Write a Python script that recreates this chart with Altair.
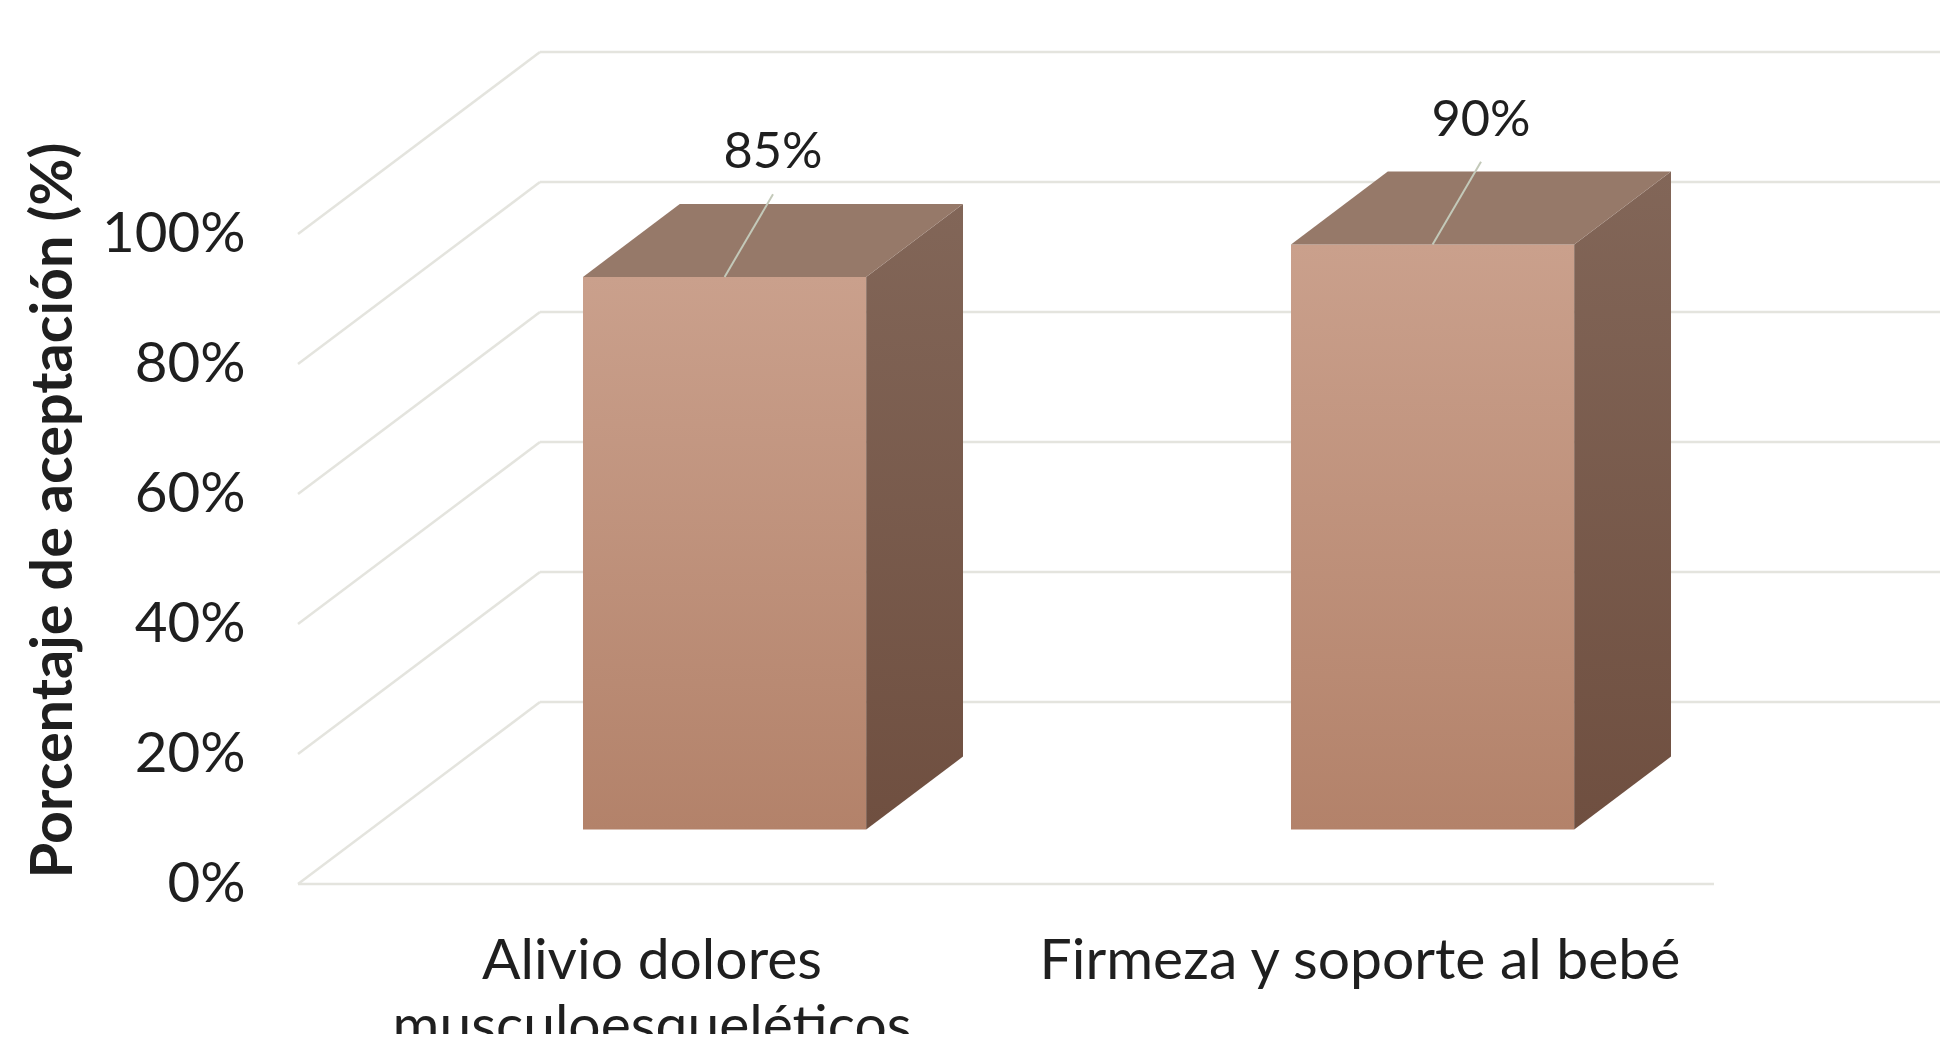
import altair as alt
import pandas as pd

# ---------------- data ----------------
categories = ["Alivio dolores musculoesqueléticos", "Firmeza y soporte al bebé"]
category_lines = ["Alivio dolores\nmusculoesqueléticos", "Firmeza y soporte al bebé"]
values = [85, 90]
value_labels = ["85%", "90%"]
y_ticks = [0, 20, 40, 60, 80, 100]
y_title = "Porcentaje de aceptación (%)"

# ---------------- oblique 3-D projection geometry ----------------
PX_PER_X = 708.0          # pixels per category unit
PX_PER_Y = 6.5            # pixels per percent
DEPTH_X = 242 / PX_PER_X  # full floor depth, expressed in x units
DEPTH_Y = 182 / PX_PER_Y  # full floor depth, expressed in value units
BAR_W = 0.4
Z0, Z1 = 0.3, 0.7         # bar front / back depth fraction
W, H = 1642, 832
X_MAX = W / PX_PER_X
Y_MAX = H / PX_PER_Y
N = len(categories)

FONT = "Lato"
TXT = "#1f1f1f"
GRID = "#e4e4de"

# ---------------- derived tables ----------------
front_rows, side_rows, top_rows, label_rows, cat_rows = [], [], [], [], []
for i, (c, v, lab, cl) in enumerate(zip(categories, values, value_labels, category_lines)):
    xl = i + (1 - BAR_W) / 2
    xr = xl + BAR_W
    front_rows.append({"cat": c, "x": xl + Z0 * DEPTH_X, "x2": xr + Z0 * DEPTH_X,
                       "y": Z0 * DEPTH_Y, "y2": v + Z0 * DEPTH_Y})
    for z in (Z0, Z1):
        side_rows.append({"cat": c, "x": xr + z * DEPTH_X, "y": z * DEPTH_Y, "y2": v + z * DEPTH_Y})
        top_rows.append({"cat": c, "y": v + z * DEPTH_Y, "x": xl + z * DEPTH_X, "x2": xr + z * DEPTH_X})
    ly = v + 0.5 * DEPTH_Y + 13.4
    label_rows.append({"cat": c, "label": lab,
                       "x": i + 0.5 + 0.5 * DEPTH_X, "y": ly,
                       "lx": i + 0.5 + Z0 * DEPTH_X, "ly": v + Z0 * DEPTH_Y,
                       "lx2": i + 0.5 + 0.5 * DEPTH_X, "ly2": ly - 6.3})
    cat_rows.append({"cat": c, "text": cl, "x": i + 0.5, "y": 0})

front_df = pd.DataFrame(front_rows)
side_df = pd.DataFrame(side_rows)
top_df = pd.DataFrame(top_rows)
label_df = pd.DataFrame(label_rows)
cat_df = pd.DataFrame(cat_rows)

wall_df = pd.DataFrame([{"x": 0, "x2": DEPTH_X, "y": t, "y2": t + DEPTH_Y} for t in y_ticks])
back_df = pd.DataFrame([{"x": DEPTH_X, "x2": X_MAX, "y": t + DEPTH_Y} for t in y_ticks])
floor_df = pd.DataFrame([{"x": 0, "x2": N, "y": 0}])

# ---------------- scales / axes ----------------
xscale = alt.Scale(domain=[0, X_MAX], nice=False, zero=False)
yscale = alt.Scale(domain=[0, Y_MAX], nice=False, zero=False)
yaxis = alt.Axis(values=y_ticks, labelExpr="datum.value + '%'", domain=False, ticks=False,
                 tickSize=0, grid=False, labelFont=FONT, labelFontSize=56.5, labelColor=TXT,
                 labelPadding=53, labelAlign="right", labelBaseline="middle",
                 labelOverlap=False, labelFlush=False,
                 title=y_title, titleFont=FONT, titleFontSize=57.5, titleFontWeight="bold",
                 titleColor=TXT, titleX=-244, titleY=458, titleAngle=270,
                 titleAlign="center", titleBaseline="middle")


def X(f):
    return alt.X(f, type="quantitative", scale=xscale, axis=None)


def Y(f):
    return alt.Y(f, type="quantitative", scale=yscale, axis=yaxis)


# ---------------- layers ----------------
wall = alt.Chart(wall_df).mark_rule(color=GRID, strokeWidth=2.5).encode(
    x=X("x"), x2="x2", y=Y("y"), y2="y2")
back = alt.Chart(back_df).mark_rule(color=GRID, strokeWidth=2.5).encode(
    x=X("x"), x2="x2", y=Y("y"))
floor = alt.Chart(floor_df).mark_rule(color=GRID, strokeWidth=2.5).encode(
    x=X("x"), x2="x2", y=Y("y"))

front_grad = alt.LinearGradient(gradient="linear", x1=0, y1=0, x2=0, y2=1,
                                stops=[alt.GradientStop(color="#caa08c", offset=0),
                                       alt.GradientStop(color="#b3826a", offset=1)])
side_grad = alt.LinearGradient(gradient="linear", x1=0, y1=0, x2=0, y2=1,
                               stops=[alt.GradientStop(color="#826658", offset=0),
                                      alt.GradientStop(color="#6f4f40", offset=1)])

front = alt.Chart(front_df).mark_rect(color=front_grad).encode(
    x=X("x"), x2="x2", y=Y("y"), y2="y2")
side = alt.Chart(side_df).mark_area(color=side_grad, orient="vertical").encode(
    x=X("x"), y=Y("y"), y2="y2", detail="cat:N")
top = alt.Chart(top_df).mark_area(color="#967969", orient="horizontal").encode(
    y=Y("y"), x=X("x"), x2="x2", detail="cat:N")

leader = alt.Chart(label_df).mark_rule(color="#c3c9b9", strokeWidth=2).encode(
    x=X("lx"), x2="lx2", y=Y("ly"), y2="ly2")
vlabels = alt.Chart(label_df).mark_text(font=FONT, fontSize=50.5, color=TXT,
                                        align="center", baseline="middle").encode(
    x=X("x"), y=Y("y"), text="label:N")
xlabels = alt.Chart(cat_df).mark_text(font=FONT, fontSize=57, color=TXT, align="center",
                                      baseline="alphabetic", dy=95, lineBreak="\n",
                                      lineHeight=66, clip=False).encode(
    x=X("x"), y=Y("y"), text="text:N")

chart = alt.layer(wall, back, floor, front, side, top, leader, vlabels, xlabels).properties(
    width=W, height=H,
    autosize=alt.AutoSizeParams(type="none"),
    padding={"left": 290, "top": 44, "right": 0, "bottom": 150},
    background="white",
).configure_view(stroke=None)

chart.save("out.html", embed_options={"renderer": "svg", "actions": False})
